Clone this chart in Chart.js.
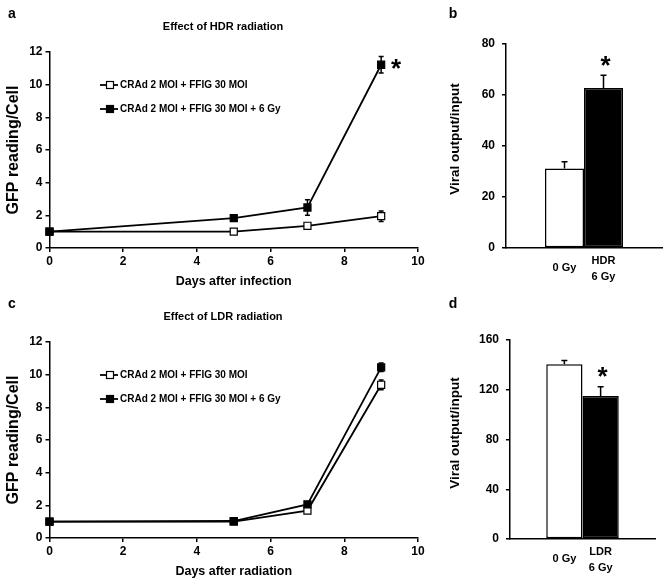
<!DOCTYPE html>
<html><head><meta charset="utf-8">
<script src="https://cdn.jsdelivr.net/npm/chart.js@4.4.0/dist/chart.umd.min.js"></script>
<style>
html,body{margin:0;padding:0;background:#fff;}
#wrap{position:relative;width:667px;height:584px;background:#fff;}
canvas{position:absolute;}
</style></head><body>
<div id="wrap">
<canvas id="ca" width="430" height="290" style="left:0;top:0;width:430px;height:290px"></canvas>
<canvas id="cb" width="247" height="290" style="left:420px;top:0;width:247px;height:290px"></canvas>
<canvas id="cc" width="430" height="294" style="left:0;top:290px;width:430px;height:294px"></canvas>
<canvas id="cd" width="247" height="294" style="left:420px;top:290px;width:247px;height:294px"></canvas>
</div>
<script>
// ---- data ----
const days = [0, 5, 7, 9];
const seriesNames = ['CRAd 2 MOI + FFIG 30 MOI', 'CRAd 2 MOI + FFIG 30 MOI + 6 Gy'];
const hdrControl = [1.0, 1.0, 1.36, 1.95];
const hdrControlErr = [0.04, 0.05, 0.08, 0.32];
const hdrIrradiated = [1.0, 1.83, 2.48, 11.22];
const hdrIrradiatedErr = [0.04, 0.1, 0.47, 0.5];
const ldrControl = [1.0, 1.0, 1.68, 9.38];
const ldrControlErr = [0.04, 0.05, 0.1, 0.3];
const ldrIrradiated = [1.0, 1.04, 2.06, 10.45];
const ldrIrradiatedErr = [0.04, 0.08, 0.12, 0.26];
const hdrBarLabels = ['0 Gy', ['HDR', '6 Gy']];
const hdrOutput = [31.2, 62.7];
const hdrOutputErr = [2.6, 5.0];
const ldrBarLabels = ['0 Gy', ['LDR', '6 Gy']];
const ldrOutput = [140.5, 115.0];
const ldrOutputErr = [3.0, 7.5];
const panelTitles = ['Effect of HDR radiation', 'Effect of LDR radiation'];
const xTitles = ['Days after infection', 'Days after radiation'];
const lineYTitle = 'GFP reading/Cell';
const barYTitle = 'Viral output/input';
const panelLetters = ['a', 'b', 'c', 'd'];

// ---- setup ----
const FF = '"Liberation Sans", Arial, Helvetica, sans-serif';
Chart.defaults.font.family = FF;
Chart.defaults.font.weight = 'bold';
Chart.defaults.color = '#000';
Chart.defaults.animation = false;

function drawText(ctx, s, x, y, size, align, rot) {
  ctx.save();
  ctx.font = 'bold ' + size + 'px ' + FF;
  ctx.fillStyle = '#000';
  ctx.textAlign = align || 'center';
  ctx.textBaseline = 'middle';
  ctx.translate(x, y);
  if (rot) ctx.rotate(rot);
  ctx.fillText(s, 0, 0);
  ctx.restore();
}
function drawStar(ctx, x, y, size) {
  ctx.save();
  ctx.font = 'bold ' + size + 'px ' + FF;
  ctx.fillStyle = '#000';
  ctx.textAlign = 'center';
  ctx.textBaseline = 'alphabetic';
  ctx.fillText('*', x, y + 0.55 * size);
  ctx.restore();
}

const errPlugin = {
  id: 'errbars',
  beforeDatasetsDraw(chart, args, o) { if (o.phase === 'before') draw(chart, o); },
  afterDatasetsDraw(chart, args, o) { if (o.phase === 'after') draw(chart, o); }
};
function draw(chart, o) {
  const ctx = chart.ctx, ys = chart.scales.y;
  chart.data.datasets.forEach((ds, i) => {
    const errs = o.errors[i];
    if (!errs) return;
    chart.getDatasetMeta(i).data.forEach((el, j) => {
      const raw = ds.data[j];
      const v = (raw && typeof raw === 'object') ? raw.y : raw;
      const e = errs[j];
      if (v == null || !e) return;
      const x = el.x;
      const yT = ys.getPixelForValue(v + e);
      const yB = o.upperOnly ? ys.getPixelForValue(v) : ys.getPixelForValue(v - e);
      ctx.save();
      ctx.strokeStyle = '#000';
      ctx.lineWidth = 1.5;
      ctx.beginPath();
      ctx.moveTo(x, yT); ctx.lineTo(x, yB);
      ctx.moveTo(x - o.cap, yT); ctx.lineTo(x + o.cap, yT);
      if (!o.upperOnly) { ctx.moveTo(x - o.cap, yB); ctx.lineTo(x + o.cap, yB); }
      ctx.stroke();
      ctx.restore();
    });
  });
}

const decoPlugin = {
  id: 'deco',
  afterDraw(chart, args, o) {
    const ctx = chart.ctx, ca = chart.chartArea;
    (o.texts || []).forEach(t => drawText(ctx, t.text, t.x, t.y, t.size, t.align, t.rot));
    if (o.star) {
      const s = o.star;
      const el = chart.getDatasetMeta(s.dataset).data[s.index];
      const ds = chart.data.datasets[s.dataset];
      const raw = ds.data[s.index];
      const v = (typeof raw === 'object') ? raw.y : raw;
      const top = chart.scales.y.getPixelForValue(v + (s.err || 0));
      drawStar(ctx, el.x + s.dx, top + s.dy, s.size);
    }
    if (o.barLabels) {
      o.barLabels.forEach((lab, i) => {
        const el = chart.getDatasetMeta(i).data[0];
        if (Array.isArray(lab)) {
          lab.forEach((l, k) => drawText(ctx, l, el.x, ca.bottom + 13 + 16 * k, 11, 'center'));
        } else {
          drawText(ctx, lab, el.x, ca.bottom + 20, 11, 'center');
        }
      });
    }
    if (o.legend) {
      const L = o.legend;
      chart.data.datasets.forEach((ds, i) => {
        const y = L.y + i * L.gap;
        ctx.save();
        ctx.strokeStyle = '#000';
        ctx.lineWidth = 1.8;
        ctx.beginPath(); ctx.moveTo(L.x, y); ctx.lineTo(L.x + 18, y); ctx.stroke();
        const h = 3.5;
        ctx.fillStyle = ds.pointBackgroundColor;
        ctx.lineWidth = 1.2;
        ctx.fillRect(L.x + 10 - h, y - h, 2 * h, 2 * h);
        ctx.strokeRect(L.x + 10 - h, y - h, 2 * h, 2 * h);
        ctx.restore();
        drawText(ctx, ds.label, L.x + 20, y, 10, 'left');
      });
    }
  }
};

function lineChart(id, ctrl, ctrlErr, irr, irrErr, title, xTitle, letter, xAxisH, xTitlePad, starOn) {
  const mk = (vals) => days.map((d, i) => ({ x: d, y: vals[i] }));
  const base = { borderColor: '#000', borderWidth: 1.8, pointStyle: 'rect', pointRadius: 5,
                 pointBorderColor: '#000', pointBorderWidth: 1.2, tension: 0, clip: false, showLine: true };
  const tickFont = { size: 12, weight: 'bold' };
  return new Chart(document.getElementById(id), {
    type: 'scatter',
    data: { datasets: [
      Object.assign({}, base, { label: seriesNames[0], data: mk(ctrl), pointBackgroundColor: '#fff', order: 1 }),
      Object.assign({}, base, { label: seriesNames[1], data: mk(irr), pointBackgroundColor: '#000', order: 0 })
    ]},
    options: {
      responsive: false, animation: false,
      layout: { padding: { left: 0, top: 52, right: 12, bottom: 0 } },
      plugins: {
        legend: { display: false }, tooltip: { enabled: false },
        errbars: { errors: [ctrlErr, irrErr], phase: 'before', cap: 2.5, upperOnly: false },
        deco: {
          texts: [
            { text: letter, x: 12, y: 14, size: 14, align: 'center' },
            { text: title, x: 223, y: 27, size: 11, align: 'center' }
          ],
          legend: { x: 100, y: 85, gap: 24 },
          star: starOn ? { dataset: 1, index: 3, dx: 15, dy: -2, size: 26, err: 0 } : null
        }
      },
      scales: {
        x: { type: 'linear', min: 0, max: 10,
             ticks: { stepSize: 2, font: tickFont, padding: 2, color: '#000' },
             grid: { drawOnChartArea: false, drawTicks: true, tickLength: 4, color: '#000', lineWidth: 1.5 },
             border: { display: true, color: '#000', width: 1.5 },
             title: { display: true, text: xTitle, color: '#000', font: { size: 12.5, weight: 'bold' }, padding: { top: 0, bottom: xTitlePad } },
             afterFit: s => { s.height = xAxisH; } },
        y: { min: 0, max: 12,
             ticks: { stepSize: 2, font: tickFont, padding: 3, color: '#000' },
             grid: { drawOnChartArea: false, drawTicks: true, tickLength: 4, color: '#000', lineWidth: 1.5 },
             border: { display: true, color: '#000', width: 1.5 },
             title: { display: true, text: lineYTitle, color: '#000', font: { size: 16, weight: 'bold' }, padding: { top: 4, bottom: 0 } },
             afterFit: s => { s.width = 49.5; } }
      }
    },
    plugins: [errPlugin, decoPlugin]
  });
}

function barChart(id, labels, vals, errs, letter, ymax, ystep, top, right, xAxisH, yW, yTitleY) {
  const tickFont = { size: 12, weight: 'bold' };
  return new Chart(document.getElementById(id), {
    type: 'bar',
    data: { labels: [''], datasets: [
      { label: '0', data: [vals[0]], backgroundColor: '#fff', borderColor: '#000', borderWidth: 1.5, borderSkipped: false, categoryPercentage: 0.5, barPercentage: 1.0 },
      { label: '1', data: [vals[1]], backgroundColor: '#000', borderColor: '#000', borderWidth: 1.5, borderSkipped: false, categoryPercentage: 0.5, barPercentage: 1.0 }
    ]},
    options: {
      responsive: false, animation: false,
      layout: { padding: { left: 0, top: top, right: right, bottom: 0 } },
      plugins: {
        legend: { display: false }, tooltip: { enabled: false },
        errbars: { errors: [errs, errs].map((e, i) => [errs[i]]), phase: 'after', cap: 3, upperOnly: true },
        deco: {
          texts: [
            { text: letter, x: 33, y: 14, size: 14, align: 'center' },
            { text: barYTitle, x: 35, y: yTitleY, size: 13.5, align: 'center', rot: -Math.PI / 2 }
          ],
          barLabels: labels,
          star: { dataset: 1, index: 0, dx: 2, dy: -16, size: 26, err: errs[1] }
        }
      },
      scales: {
        x: { ticks: { display: false }, grid: { display: false },
             border: { display: true, color: '#000', width: 1.5 },
             afterFit: s => { s.height = xAxisH; } },
        y: { min: 0, max: ymax,
             ticks: { stepSize: ystep, font: tickFont, padding: 7, color: '#000' },
             grid: { drawOnChartArea: false, drawTicks: true, tickLength: 4, color: '#000', lineWidth: 1.5 },
             border: { display: true, color: '#000', width: 1.5 },
             afterFit: s => { s.width = yW; } }
      }
    },
    plugins: [errPlugin, decoPlugin]
  });
}

lineChart('ca', hdrControl, hdrControlErr, hdrIrradiated, hdrIrradiatedErr, panelTitles[0], xTitles[0], panelLetters[0], 42, 0.5, true);
barChart('cb', hdrBarLabels, hdrOutput, hdrOutputErr, panelLetters[1], 80, 20, 44, 5, 42, 86, 139);
lineChart('cc', ldrControl, ldrControlErr, ldrIrradiated, ldrIrradiatedErr, panelTitles[1], xTitles[1], panelLetters[2], 46, 4.8, false);
barChart('cd', ldrBarLabels, ldrOutput, ldrOutputErr, panelLetters[3], 160, 40, 50, 12, 45, 90, 143);
</script>
</body></html>
